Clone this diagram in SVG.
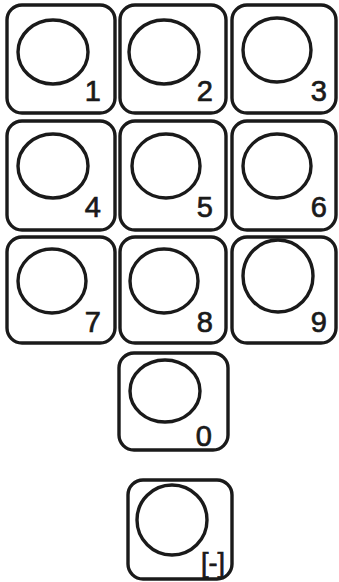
<svg xmlns="http://www.w3.org/2000/svg" width="339" height="582" viewBox="0 0 339 582">
<style>
.k{fill:#fff;stroke:#1a1a1a;stroke-width:3.4}
.c{fill:#fff;stroke:#1a1a1a;stroke-width:3.4}
.t{font-family:"Liberation Sans",Arial,sans-serif;font-size:29px;fill:#1a1a1a;stroke:#1a1a1a;stroke-width:0.7;text-anchor:end}
</style>
<rect width="339" height="582" fill="#fff"/>
<g id="key1"><rect class="k" x="7" y="5" width="108" height="108" rx="15"/><ellipse class="c" cx="53" cy="52" rx="35" ry="32"/><text class="t" x="101" y="101">1</text></g>
<g id="key2"><rect class="k" x="120" y="5" width="106" height="108" rx="15"/><ellipse class="c" cx="164" cy="52" rx="35" ry="32"/><text class="t" x="213" y="101">2</text></g>
<g id="key3"><rect class="k" x="232" y="5" width="104" height="108" rx="15"/><ellipse class="c" cx="277" cy="50" rx="34" ry="32"/><text class="t" x="327" y="101">3</text></g>
<g id="key4"><rect class="k" x="7" y="121" width="108" height="109" rx="15"/><ellipse class="c" cx="53" cy="166" rx="35" ry="32"/><text class="t" x="101" y="217">4</text></g>
<g id="key5"><rect class="k" x="120" y="121" width="106" height="109" rx="15"/><ellipse class="c" cx="166" cy="166" rx="34" ry="32"/><text class="t" x="213" y="217">5</text></g>
<g id="key6"><rect class="k" x="232" y="121" width="104" height="109" rx="15"/><ellipse class="c" cx="277" cy="166" rx="34" ry="32"/><text class="t" x="327" y="217">6</text></g>
<g id="key7"><rect class="k" x="7" y="237" width="108" height="106" rx="15"/><ellipse class="c" cx="52" cy="281" rx="34" ry="32"/><text class="t" x="101" y="332">7</text></g>
<g id="key8"><rect class="k" x="120" y="237" width="106" height="106" rx="15"/><ellipse class="c" cx="164" cy="281" rx="34" ry="32"/><text class="t" x="213" y="332">8</text></g>
<g id="key9"><rect class="k" x="232" y="237" width="104" height="106" rx="15"/><ellipse class="c" cx="278" cy="276" rx="35" ry="36"/><text class="t" x="327" y="332">9</text></g>
<g id="key0"><rect class="k" x="119" y="353" width="109" height="97" rx="15"/><ellipse class="c" cx="165" cy="391" rx="35" ry="31"/><text class="t" x="212" y="446">0</text></g>
<g id="keyminus"><rect class="k" x="128" y="480" width="104" height="99" rx="15"/><ellipse class="c" cx="172" cy="520" rx="35" ry="35"/><text class="t" x="225" y="572" style="font-size:27px">[-]</text></g>
</svg>
